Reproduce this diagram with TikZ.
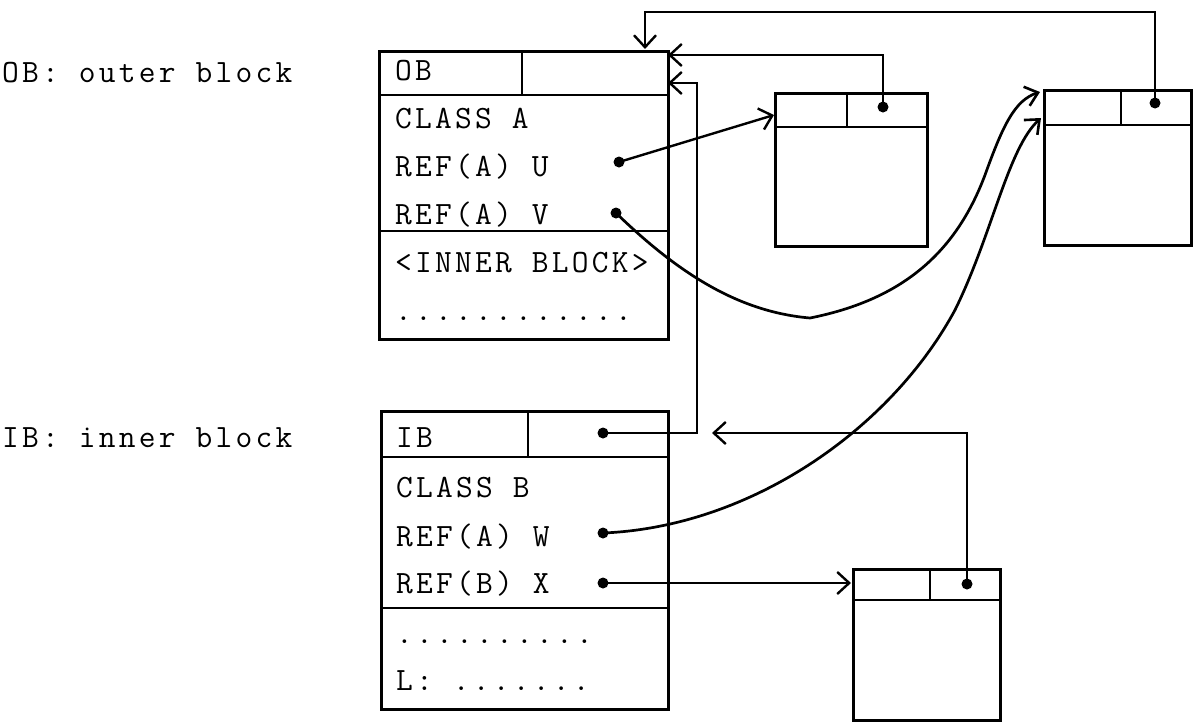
\documentclass[tikz,border=0pt]{standalone}
\usepackage{fontspec}
\usetikzlibrary{arrows.meta}
\newfontfamily\twfam[LetterSpace=10]{Latin Modern Mono}
\newcommand\twfont{\twfam\fontsize{32.5}{38}\selectfont}
\begin{document}
\begin{tikzpicture}[x=1pt,y=-1pt,
  box/.style={draw, line width=2.9pt, rectangle, inner sep=0pt, anchor=north west},
  sep/.style={line width=2.7pt},
  lbl/.style={anchor=base west, inner sep=0pt, font=\twfont},
  ptr/.style={line width=2.4pt, -{Straight Barb[length=12pt,width=22pt,line width=2.4pt]}},
  ptrc/.style={line width=2.7pt, -{Straight Barb[length=12pt,width=20pt,line width=2.6pt]}},
  ]
\useasboundingbox (0,0) rectangle (1197,721);

% left labels
\node[lbl] (lob) at (2,82) {OB: outer block};
\node[lbl] (lib) at (2,447) {IB: inner block};

% outer block
\node[box, minimum width=289pt, minimum height=288pt] (ob) at (378,50) {};
\draw[sep] (378,95) -- (667,95);
\draw[sep] (522,50) -- (522,95);
\draw[sep] (378,231) -- (667,231);
\node[lbl] (t1) at (395,80) {OB};
\node[lbl] (t2) at (395,128) {CLASS A};
\node[lbl] (t3) at (395,176) {REF(A) U};
\node[lbl] (t4) at (395,224) {REF(A) V};
\node[lbl] (t5) at (395,272) {<INNER BLOCK>};
\node[lbl] (t6) at (395,320) {............};

% inner block
\node[box, minimum width=287pt, minimum height=298pt] (ib) at (380,410) {};
\draw[sep] (380,457) -- (667,457);
\draw[sep] (528,410) -- (528,457);
\draw[sep] (380,608) -- (667,608);
\node[lbl] (s1) at (396,447) {IB};
\node[lbl] (s2) at (396,497) {CLASS B};
\node[lbl] (s3) at (396,546) {REF(A) W};
\node[lbl] (s4) at (396,593) {REF(B) X};
\node[lbl] (s5) at (396,643) {..........};
\node[lbl] (s6) at (396,690) {L: .......};

% object A1
\node[box, minimum width=152pt, minimum height=153pt] (a1) at (774,92) {};
\draw[sep] (774,127) -- (926,127);
\draw[sep] (847,92) -- (847,127);
% object A2
\node[box, minimum width=147pt, minimum height=155pt] (a2) at (1043,89) {};
\draw[sep] (1043,125) -- (1190,125);
\draw[sep] (1121,89) -- (1121,125);
% object B1
\node[box, minimum width=147pt, minimum height=151pt] (b1) at (852,568) {};
\draw[sep] (852,600) -- (999,600);
\draw[sep] (930,568) -- (930,600);

% pointer origins
\coordinate (du) at (619,162);
\coordinate (dv) at (616,213);
\coordinate (dib) at (603,433);
\coordinate (dw) at (603,533);
\coordinate (dx) at (603,583);
\coordinate (da1) at (883,107);
\coordinate (da2) at (1155,103);
\coordinate (db1) at (967,584);

% pointer targets
\coordinate (obin1) at (645,49);
\coordinate (obin2) at (668,55);
\coordinate (obin3) at (668,83);
\coordinate (bend3) at (697,83);
\coordinate (top1) at (1155,12);
\coordinate (a1in) at (774,115);
\coordinate (a2inv) at (1040,92);
\coordinate (a2inw) at (1041,118);
\coordinate (b1in) at (851,583);
\coordinate (ibin) at (712,433);

% connectors
\draw[ptr] (da2) -- (top1) -| (obin1);
\draw[ptr] (da1) |- (obin2);
\draw[ptr] (dib) -| (bend3) -- (obin3);
\draw[ptr] (du) -- (a1in);
\draw[ptrc] (dv) .. controls (680,275) and (740,312) .. (810,318)
  .. controls (900,300) and (955,255) .. (985,175)
  .. controls (1003,125) and (1015,100) .. (a2inv);
\draw[ptrc] (dw) .. controls (750,527) and (890,430) .. (955,310)
  .. controls (992,235) and (1008,148) .. (a2inw);
\draw[ptr] (dx) -- (b1in);
\draw[ptr] (db1) |- (ibin);

\foreach \d in {du,dv,dib,dw,dx,da1,da2,db1}
  \fill (\d) circle (5.5pt);
\end{tikzpicture}
\end{document}
